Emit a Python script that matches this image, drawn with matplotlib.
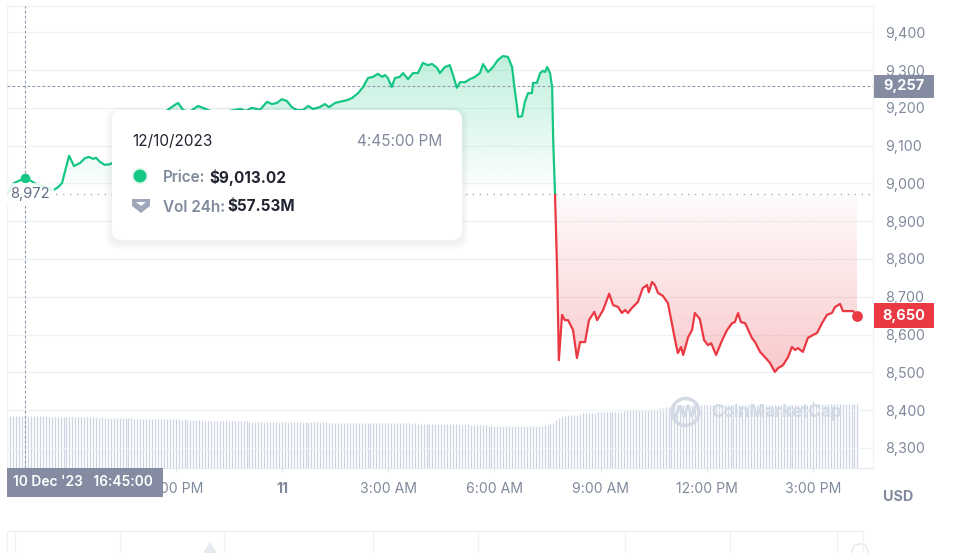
import numpy as np
import matplotlib
matplotlib.use("Agg")
import matplotlib.pyplot as plt
from matplotlib.patches import Rectangle, FancyBboxPatch, Circle, Polygon
from matplotlib.colors import to_rgb

plt.rcParams['font.family'] = ['Inter', 'DejaVu Sans']

# time in hours since 10 Dec 2023 00:00, price in USD
price_time = [
    16.24, 16.41, 16.60, 16.75, 16.89, 17.03, 17.31, 17.54, 17.68, 17.79, 17.90, 17.99,
    18.13, 18.30, 18.44, 18.55, 18.67, 18.75, 18.86, 19.00, 19.15, 19.43, 19.71, 19.99,
    20.27, 20.56, 20.78, 20.98, 21.07, 21.21, 21.40, 21.63, 21.77, 21.97, 22.25, 22.53,
    22.82, 22.99, 23.15, 23.38, 23.58, 23.72, 23.86, 24.00, 24.14, 24.28, 24.42, 24.59,
    24.74, 24.88, 25.07, 25.21, 25.33, 25.50, 25.72, 25.86, 25.98, 26.15, 26.29, 26.43,
    26.57, 26.71, 26.83, 26.91, 26.99, 27.10, 27.19, 27.33, 27.42, 27.56, 27.70, 27.84,
    27.98, 28.12, 28.24, 28.38, 28.46, 28.60, 28.74, 28.83, 28.94, 29.03, 29.17, 29.31,
    29.45, 29.59, 29.68, 29.82, 29.96, 30.10, 30.24, 30.38, 30.50, 30.55, 30.64, 30.67,
    30.78, 30.86, 30.95, 31.06, 31.09, 31.20, 31.29, 31.37, 31.43, 31.49, 31.57, 31.63,
    31.66, 31.71, 31.77, 31.82, 31.91, 31.99, 32.08, 32.22, 32.33, 32.42, 32.56, 32.67,
    32.82, 32.90, 33.07, 33.24, 33.35, 33.49, 33.60, 33.69, 33.77, 33.88, 34.05, 34.19,
    34.31, 34.36, 34.45, 34.53, 34.62, 34.76, 34.90, 35.01, 35.13, 35.18, 35.27, 35.33,
    35.47, 35.58, 35.66, 35.80, 35.92, 36.03, 36.12, 36.26, 36.43, 36.57, 36.71, 36.79,
    36.88, 36.96, 37.08, 37.27, 37.36, 37.50, 37.64, 37.78, 37.92, 38.01, 38.15, 38.29,
    38.40, 38.49, 38.57, 38.71, 38.85, 39.00, 39.11, 39.25, 39.39, 39.53, 39.62, 39.76,
    39.84, 39.99, 40.13, 40.24]
price = [
    8972, 9000, 9008, 9013.02, 9008, 9000, 8990, 8982, 8990, 9001, 9040, 9073,
    9046, 9054, 9067, 9070, 9065, 9068, 9057, 9049, 9051, 9065, 9090, 9120,
    9150, 9175, 9195, 9208, 9213, 9194, 9190, 9205, 9200, 9192, 9188, 9192,
    9197, 9192, 9200, 9195, 9216, 9210, 9213, 9223, 9218, 9202, 9194, 9194,
    9205, 9197, 9202, 9210, 9202, 9213, 9218, 9221, 9226, 9239, 9255, 9279,
    9282, 9290, 9282, 9287, 9279, 9255, 9279, 9282, 9292, 9276, 9292, 9292,
    9319, 9313, 9316, 9306, 9292, 9308, 9313, 9287, 9253, 9268, 9268, 9276,
    9282, 9292, 9316, 9295, 9308, 9327, 9337, 9335, 9308, 9266, 9202, 9176,
    9178, 9216, 9239, 9239, 9266, 9266, 9292, 9298, 9295, 9308, 9292, 9255,
    9115, 8974, 8770, 8532, 8652, 8638, 8638, 8612, 8538, 8580, 8580, 8638,
    8660, 8638, 8665, 8708, 8678, 8673, 8657, 8665, 8657, 8670, 8686, 8723,
    8731, 8712, 8739, 8731, 8710, 8702, 8683, 8630, 8572, 8551, 8567, 8546,
    8593, 8612, 8657, 8641, 8585, 8572, 8577, 8546, 8585, 8612, 8630, 8633,
    8657, 8633, 8630, 8591, 8580, 8554, 8540, 8525, 8501, 8511, 8519, 8540,
    8567, 8559, 8564, 8554, 8591, 8599, 8604, 8630, 8652, 8657, 8673, 8681,
    8662, 8662, 8662, 8650]

# 24h volume in $M, one bar every 5 minutes from 16:15
vol_start = 16.25
vol_24h = [
    57.9, 57.8, 57.6, 57.9, 57.6, 57.5, 57.53, 57.4, 57.6, 57.2, 57.4, 57.1,
    57.0, 57.3, 56.9, 56.6, 56.7, 56.5, 56.4, 56.6, 56.3, 56.5, 56.2, 56.4,
    56.3, 56.1, 56.4, 56.0, 56.2, 55.9, 56.1, 55.8, 55.9, 55.7, 55.8, 55.5,
    55.6, 55.4, 55.5, 55.8, 55.3, 55.1, 54.8, 54.5, 54.6, 54.3, 54.4, 54.2,
    54.3, 54.1, 54.2, 54.0, 54.3, 53.9, 54.1, 53.8, 53.9, 53.7, 53.9, 53.6,
    53.7, 53.5, 53.6, 53.3, 53.4, 53.1, 52.6, 52.3, 52.1, 52.2, 52.0, 52.1,
    52.0, 51.9, 52.6, 51.8, 51.9, 51.7, 51.8, 51.6, 51.7, 51.5, 51.2, 51.0,
    50.9, 51.1, 50.8, 51.0, 51.2, 51.1, 50.9, 51.0, 50.8, 50.9, 50.7, 50.9,
    50.8, 50.6, 50.9, 51.0, 51.2, 50.8, 50.7, 51.3, 50.6, 50.5, 50.7, 50.4,
    50.5, 50.3, 49.9, 49.8, 49.7, 49.9, 49.8, 49.6, 49.8, 49.7, 49.5, 49.9,
    49.8, 49.6, 49.7, 49.5, 49.8, 50.0, 49.6, 49.7, 49.5, 49.4, 49.6, 49.3,
    49.5, 49.4, 49.3, 49.7, 49.4, 49.2, 49.3, 49.1, 49.2, 49.0, 49.1, 48.9,
    49.0, 48.8, 48.6, 48.3, 48.4, 48.2, 48.3, 48.1, 48.4, 48.2, 48.0, 48.1,
    48.2, 47.9, 48.0, 47.8, 47.9, 47.6, 47.2, 46.8, 46.5, 46.3, 46.4, 46.2,
    46.3, 46.1, 46.4, 46.2, 46.5, 46.3, 46.4, 46.6, 46.3, 46.4, 46.2, 46.5,
    46.6, 46.8, 47.1, 48.0, 49.8, 50.2, 53.5, 55.3, 56.2, 57.5, 58.7, 58.5,
    58.9, 58.7, 60.3, 60.9, 60.7, 61.0, 60.8, 61.1, 61.9, 62.0, 61.8, 62.1,
    62.0, 62.3, 61.9, 62.2, 62.4, 63.0, 64.1, 64.2, 64.0, 64.3, 64.2, 64.5,
    64.3, 64.6, 64.4, 64.7, 65.2, 66.0, 66.6, 67.3, 68.1, 68.9, 69.5, 69.8,
    69.7, 69.9, 69.8, 70.0, 69.6, 69.8, 69.9, 69.7, 70.1, 69.8, 69.9, 70.0,
    69.8, 69.7, 70.0, 69.9, 69.8, 70.1, 69.9, 69.7, 69.8, 70.0, 69.9, 69.8,
    69.9, 70.0, 69.8, 70.1, 69.9, 69.8, 70.2, 69.9, 70.0, 69.8, 69.9, 70.1,
    70.0, 69.9, 70.2, 70.1, 69.9, 70.0, 70.3, 70.1, 70.2, 74.3, 70.8, 70.9,
    70.7, 70.9, 71.0, 70.8, 70.9, 71.1, 70.8, 70.9, 71.0, 70.7, 70.9, 71.0,
    70.9]

y_ticks = [8300, 8400, 8500, 8600, 8700, 8800, 8900, 9000, 9100, 9200, 9300, 9400]
x_ticks = [18, 21, 24, 27, 30, 33, 36, 39]
x_labels = ['6:00 PM', '9:00 PM', '11', '3:00 AM', '6:00 AM', '9:00 AM', '12:00 PM', '3:00 PM']

hover_time = 16.75
hover_price = 9013.02
hover_vol = 57.53
hover_level = 9257
hover_date = '12/10/2023'
hover_clock = '4:45:00 PM'
hover_stamp = "10 Dec '23   16:45:00"

GREEN = '#16c784'
RED = '#ea3943'
GRAY = '#808a9d'
GRID = '#eff2f5'
VOLC = '#cdd4e2'
DARK = '#222531'

W, H = 962, 553
fig = plt.figure(figsize=(W / 100, H / 100), dpi=100)
rect = [7 / W, (H - 467.7) / H, 866 / W, 461.7 / H]
x0, x1 = 16.237, 40.69

# volume bars (own scale, behind price)
axv = fig.add_axes(rect, zorder=0)
t_vol = vol_start + np.arange(len(vol_24h)) / 12
axv.vlines(t_vol, 0, vol_24h, color=VOLC, lw=0.9)
axv.set_xlim(x0, x1)
axv.set_ylim(0, 514)
axv.axis('off')

ax = fig.add_axes(rect, zorder=1)
ax.patch.set_alpha(0)
t = np.array(price_time)
p = np.array(price)
base = price[0]

# gradient fills above / below the opening price
poly = ax.fill_between(t, base, np.maximum(p, base), color='none', lw=0)
gpath = poly.get_paths()[0]
poly.remove()
g = np.zeros((256, 1, 4))
g[..., :3] = to_rgb(GREEN)
g[:, 0, 3] = np.linspace(0.0, 0.27, 256)
im = ax.imshow(g, extent=[t[0], t[-1], base, p.max()], origin='lower', aspect='auto', zorder=2)
im.set_clip_path(gpath, ax.transData)

poly = ax.fill_between(t, np.minimum(p, base), base, color='none', lw=0)
rpath = poly.get_paths()[0]
poly.remove()
r = np.zeros((256, 1, 4))
r[..., :3] = to_rgb(RED)
r[:, 0, 3] = np.linspace(0.27, 0.02, 256)
im = ax.imshow(r, extent=[t[0], t[-1], p.min(), base], origin='lower', aspect='auto', zorder=2)
im.set_clip_path(rpath, ax.transData)

up, = ax.plot(t, p, color=GREEN, lw=1.6, zorder=4, solid_joinstyle='round')
dn, = ax.plot(t, p, color=RED, lw=1.6, zorder=4, solid_joinstyle='round')
up.set_clip_path(Rectangle((x0, base), x1 - x0, 3000, transform=ax.transData))
dn.set_clip_path(Rectangle((x0, base - 3000), x1 - x0, 3000, transform=ax.transData))

ax.axhline(base, color='#a3acbd', lw=1, ls=(0, (1, 4)), zorder=3)
ax.axhline(hover_level, color='#8f98ab', lw=0.8, ls=(0, (2.5, 2)), zorder=3)
ax.axvline(hover_time, color='#8f98ab', lw=0.8, ls=(0, (2.5, 2)), zorder=3)

ax.scatter([hover_time], [hover_price], s=48, color=GREEN, zorder=5, lw=0)
ax.scatter([t[-1]], [p[-1]], s=60, color=RED, zorder=5, lw=0)
ax.text(16.88, base, f'{base:,}', ha='center', va='center', fontsize=10.5, color='#616e85', zorder=6,
        bbox=dict(boxstyle='square,pad=0.3', fc='white', ec='none', alpha=0.85))

ax.set_xlim(x0, x1)
ax.set_ylim(8247.5, 9469.6)
ax.set_yticks(y_ticks)
ax.set_yticklabels([f'{v:,}' for v in y_ticks])
ax.yaxis.tick_right()
ax.set_xticks(x_ticks)
ax.set_xticklabels(x_labels)
ax.get_xticklabels()[2].set_fontweight('bold')
ax.tick_params(axis='y', length=0, pad=8.6, labelsize=10.3, labelcolor=GRAY)
ax.tick_params(axis='x', length=3, width=0.8, color='#e3e7ee', pad=7, labelsize=10.1, labelcolor=GRAY)
ax.grid(axis='y', color=GRID, lw=0.9)
ax.set_axisbelow(True)
for side in ['top', 'left', 'right']:
    ax.spines[side].set_color(GRID)
ax.spines['bottom'].set_color('#e3e7ee')

# overlay in pixel coordinates for labels / tooltip
fig.canvas.draw()


def px(tt, vv):
    X, Y = ax.transData.transform((tt, vv))
    return X, H - Y


ov = fig.add_axes([0, 0, 1, 1], zorder=5)
ov.set_xlim(0, W)
ov.set_ylim(H, 0)
ov.axis('off')
ov.patch.set_alpha(0)

# right-hand price tags
_, yh = px(x1, hover_level)
ov.add_patch(Rectangle((874, yh - 11.5), 60, 23, fc='#858ca2', ec='none'))
ov.text(904, yh, f'{hover_level:,}', ha='center', va='center', color='white', fontsize=10.5, fontweight='bold')
_, yl = px(x1, price[-1])
ov.add_patch(Rectangle((874, yl - 12.5), 60, 25, fc=RED, ec='none'))
ov.text(904, yl, f'{price[-1]:,}', ha='center', va='center', color='white', fontsize=10.5, fontweight='bold')

# bottom time tag
ov.add_patch(Rectangle((7, 468), 156, 29, fc='#858ca2', ec='none'))
ov.text(83, 482.5, hover_stamp, ha='center', va='center', color='white', fontsize=9.9, fontweight='semibold')
ov.text(898, 497, 'USD', ha='center', va='center', color=GRAY, fontsize=10.3, fontweight='bold')

# watermark
ov.add_patch(Circle((685.5, 412), 13.5, fc='none', ec='#d3dae6', lw=2.5))
ov.plot([675, 680, 684, 688, 692, 696], [418, 406, 416, 406, 416, 406], color='#d3dae6', lw=2.2)
ov.text(711, 412, 'CoinMarketCap', ha='left', va='center', color='#d3dae6', fontsize=12.3, fontweight='bold')

# tooltip
for k in range(1, 8):
    ov.add_patch(FancyBboxPatch((112 - k, 110 - k + 3), 350 + 2 * k, 130 + 2 * k,
                                boxstyle=f'round,pad=0,rounding_size={10 + k}', fc='#58667e', ec='none', alpha=0.012))
ov.add_patch(FancyBboxPatch((112, 110), 350, 130, boxstyle='round,pad=0,rounding_size=10', fc='white', ec='none'))
ov.text(132, 141, hover_date, ha='left', va='center', color=DARK, fontsize=11)
ov.text(442, 141, hover_clock, ha='right', va='center', color=GRAY, fontsize=11)
ov.add_patch(Circle((140, 176), 8.5, fc='#e3f7ee', ec='none'))
ov.add_patch(Circle((140, 176), 6.5, fc=GREEN, ec='none'))
ov.text(163, 177, 'Price:', ha='left', va='center', color=GRAY, fontsize=11, fontweight='semibold')
ov.text(209, 177, f'${hover_price:,.2f}', ha='left', va='center', color=DARK, fontsize=11, fontweight='bold')
ov.add_patch(Polygon([(132, 199), (150, 199), (150, 206), (141, 213), (132, 206)], closed=True, fc='#a1a7bb', ec='none'))
ov.add_patch(Polygon([(136, 202), (146, 202), (141, 206)], closed=True, fc='white', ec='none'))
ov.text(163, 207, 'Vol 24h:', ha='left', va='center', color=GRAY, fontsize=11, fontweight='semibold')
ov.text(227, 207, f'${hover_vol:.2f}M', ha='left', va='center', color=DARK, fontsize=11, fontweight='bold')

# range navigator strip at the bottom
ov.plot([7, 863, 863], [531, 531, 553], color=GRID, lw=1)
ov.plot([7, 7], [531, 553], color=GRID, lw=1)
for xv in [15, 120, 224, 373, 478, 625, 730, 837]:
    ov.plot([xv, xv], [531, 553], color=GRID, lw=1)
ov.add_patch(Polygon([(203, 553), (210, 542), (217, 553)], closed=True, fc='#e6eaf0', ec='none'))
ov.add_patch(Circle((860, 552), 8, fc='white', ec='#e3e7ee', lw=1))

fig.savefig('out.png', dpi=100)
